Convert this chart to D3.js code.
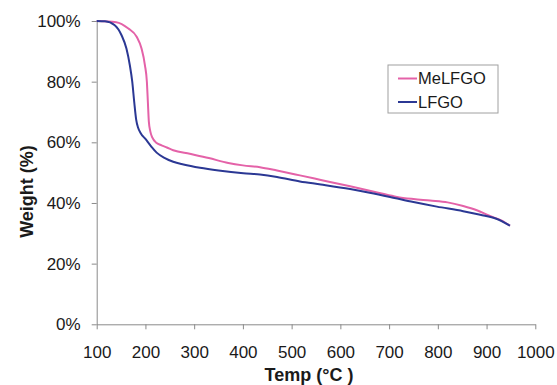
<!DOCTYPE html>
<html>
<head>
<meta charset="utf-8">
<script src="https://cdn.jsdelivr.net/npm/d3@7"></script>
<style>
  html, body { margin: 0; padding: 0; background: #fff; overflow: hidden; }
  svg { display: block; }
  text { font-family: "Liberation Sans", Arial, sans-serif; fill: #1a1a1a; }
</style>
</head>
<body>
<div class="chart"></div>
<script>
const width = 557;
const height = 385;
const margin = { top: 21, right: 21.7, bottom: 60.7, left: 96.7 };
const innerWidth = width - margin.left - margin.right;
const innerHeight = height - margin.top - margin.bottom;

// data (temperature in °C, weight in %)
const seriesNames = ["MeLFGO", "LFGO"];
const seriesColors = ["#e462a8", "#2b3894"];
const xTicks = [100, 200, 300, 400, 500, 600, 700, 800, 900, 1000];
const yTicks = [0, 20, 40, 60, 80, 100];

const meTemp = [100, 140, 165, 182, 192, 199, 203, 205, 207, 210, 214, 223, 233, 244, 257, 291, 330, 370, 400, 435, 470, 517, 560, 620, 680, 716, 750, 784, 820, 852, 880, 907, 930, 948];
const meWeight = [100, 99.6, 97.5, 94.8, 90.9, 85.4, 79.9, 73.3, 66.8, 63.6, 61.6, 59.8, 59, 58.3, 57.4, 56.2, 54.8, 53.2, 52.4, 51.8, 50.7, 49.1, 47.6, 45.5, 43.3, 42, 41.3, 40.8, 40.2, 39, 37.6, 35.7, 34.3, 32.5];

const lfTemp = [100, 117, 137, 151, 161, 168, 173, 177, 181, 185, 190, 200, 212, 223, 240, 257, 278, 312, 350, 401, 435, 470, 517, 560, 620, 660, 702, 750, 798, 852, 887, 920, 948];
const lfWeight = [100, 99.9, 98.6, 95.3, 90.9, 85.4, 79.9, 73.3, 67.5, 64.8, 63.1, 61.1, 58.6, 56.6, 54.8, 53.6, 52.7, 51.6, 50.7, 49.8, 49.4, 48.6, 47.1, 46.1, 44.6, 43.4, 42, 40.3, 38.8, 37.3, 36.1, 34.8, 32.5];

const series = [
  { name: seriesNames[0], color: seriesColors[0], values: meTemp.map((t, i) => ({ t: t, w: meWeight[i] })) },
  { name: seriesNames[1], color: seriesColors[1], values: lfTemp.map((t, i) => ({ t: t, w: lfWeight[i] })) }
];

let svg = d3.select(".chart")
  .append("svg")
  .attr("width", width)
  .attr("height", height);

let g = svg.append("g")
  .attr("transform", `translate(${margin.left},${margin.top})`);

const xScale = d3.scaleLinear().domain([100, 1000]).range([0, innerWidth]);
const yScale = d3.scaleLinear().domain([0, 100]).range([innerHeight, 0]);

// axes
const xAxis = g.append("g")
  .attr("transform", `translate(0,${innerHeight})`)
  .call(d3.axisBottom(xScale).tickValues(xTicks).tickFormat(d3.format("d"))
    .tickSize(5).tickSizeOuter(0).tickPadding(17));
const yAxis = g.append("g")
  .call(d3.axisLeft(yScale).tickValues(yTicks).tickFormat(d => d + "%")
    .tickSize(5).tickSizeOuter(0).tickPadding(11));

[xAxis, yAxis].forEach(ax => {
  ax.select(".domain").attr("stroke", "#8a8a8a");
  ax.selectAll(".tick line").attr("stroke", "#8a8a8a");
  ax.selectAll(".tick text")
    .attr("fill", "#1a1a1a")
    .style("font-size", "17px")
    .style("font-family", '"Liberation Sans", Arial, sans-serif');
});

// curves
const line = d3.line()
  .x(d => xScale(d.t))
  .y(d => yScale(d.w))
  .curve(d3.curveMonotoneX);

g.selectAll(".series")
  .data(series)
  .enter().append("path")
  .attr("class", "series")
  .attr("fill", "none")
  .attr("stroke", d => d.color)
  .attr("stroke-width", 2)
  .attr("d", d => line(d.values));

// axis titles
svg.append("text")
  .attr("x", 309)
  .attr("y", 381)
  .attr("text-anchor", "middle")
  .style("font-size", "18px")
  .style("font-weight", "bold")
  .text("Temp (°C )");

svg.append("text")
  .attr("transform", "translate(33,191.5) rotate(-90)")
  .attr("text-anchor", "middle")
  .style("font-size", "18px")
  .style("font-weight", "bold")
  .text("Weight (%)");

// legend
let legend = svg.append("g").attr("transform", "translate(388,65)");
legend.append("rect")
  .attr("width", 110)
  .attr("height", 48)
  .attr("fill", "#fff")
  .attr("stroke", "#a0a0a0");

const legendItems = legend.selectAll(".item")
  .data(series)
  .enter().append("g")
  .attr("class", "item")
  .attr("transform", (d, i) => `translate(10,${13.5 + i * 23.5})`);
legendItems.append("line")
  .attr("x1", 0).attr("x2", 19)
  .attr("stroke", d => d.color)
  .attr("stroke-width", 2);
legendItems.append("text")
  .attr("x", 20)
  .attr("dy", "0.35em")
  .style("font-size", "16.5px")
  .text(d => d.name);
</script>
</body>
</html>
